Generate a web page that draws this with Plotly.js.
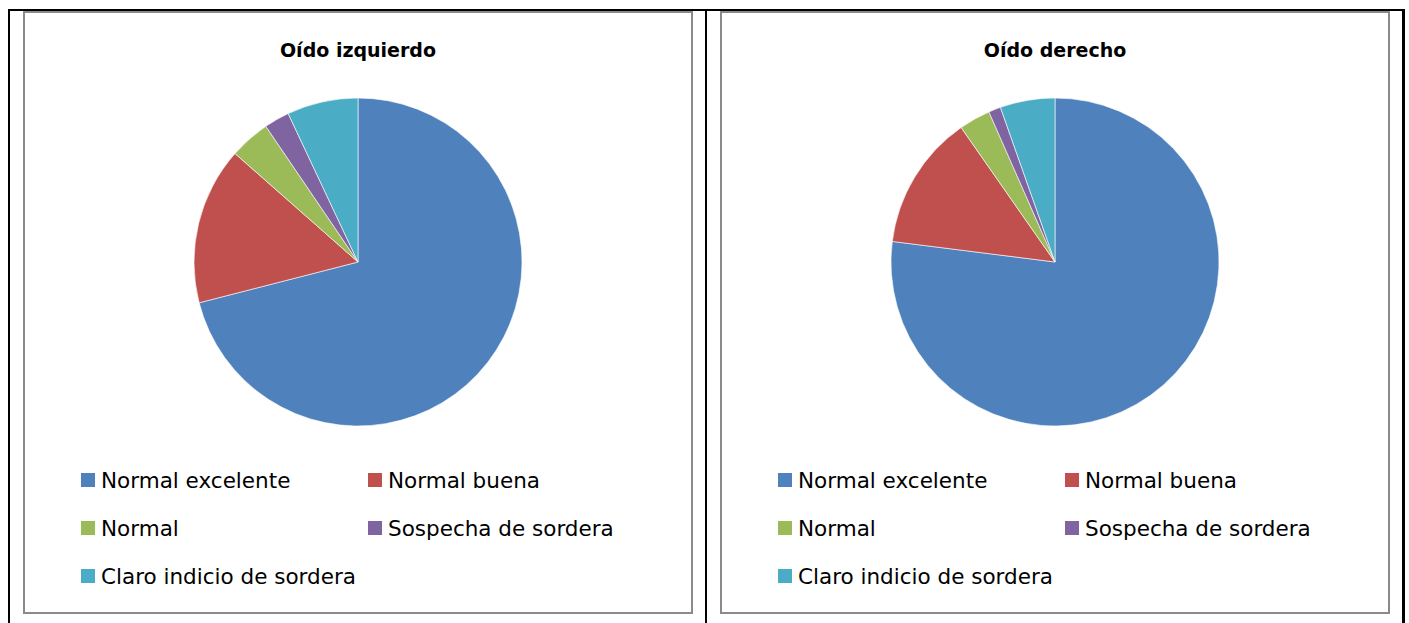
<!DOCTYPE html>
<html>
<head>
<meta charset="utf-8">
<script src="https://cdn.plot.ly/plotly-3.0.1.min.js"></script>
<style>
  body { margin: 0; background: #fff; width: 1409px; height: 623px; overflow: hidden; position: relative; }
  .rule { position: absolute; background: #000; }
  .box { position: absolute; top: 11px; width: 670px; height: 603px; border: 2px solid #8a8a8a; box-sizing: border-box; }
  .chart { width: 666px; height: 599px; }
</style>
</head>
<body>
<!-- table lines around the two charts -->
<div class="rule" style="left:8px; top:9px; width:1397px; height:2px;"></div>
<div class="rule" style="left:8px; top:9px; width:2px; height:614px;"></div>
<div class="rule" style="left:705px; top:9px; width:2px; height:614px;"></div>
<div class="rule" style="left:1402px; top:9px; width:3px; height:614px;"></div>

<div class="box" style="left:23px;"><div id="left" class="chart"></div></div>
<div class="box" style="left:720px;"><div id="right" class="chart"></div></div>

<script>
// Categories and colours (Excel 2007 palette)
const labels = ['Normal excelente', 'Normal buena', 'Normal', 'Sospecha de sordera', 'Claro indicio de sordera'];
const colors = ['#4F81BD', '#C0504D', '#9BBB59', '#8064A2', '#4BACC6'];

// Share of each category (%)
const izquierdo = [71, 15.5, 4, 2.5, 7];
const derecho = [77, 13.3, 3.1, 1.2, 5.4];

const W = 666, H = 599;
const FONT = 'DejaVu Sans, sans-serif';

function drawPie(divId, title, values) {
    const pie = {
        type: 'pie',
        labels: labels,
        values: values,
        sort: false,
        direction: 'clockwise',
        rotation: 0,
        textinfo: 'none',
        hoverinfo: 'label+percent',
        marker: { colors: colors, line: { color: '#fff', width: 0.6 } },
        domain: { x: [0, 1], y: [1 - 413 / H, 1 - 85 / H] },
        showlegend: false
    };

    // Legend drawn as a 2-column grid, like the Excel original
    const shapes = [];
    const annotations = [];
    labels.forEach((label, i) => {
        const col = i % 2, row = Math.floor(i / 2);
        const cx = 63 + col * 287;
        const cy = 467 + row * 48;
        shapes.push({
            type: 'rect', xref: 'paper', yref: 'paper',
            xsizemode: 'pixel', ysizemode: 'pixel',
            xanchor: cx / W, yanchor: 1 - cy / H,
            x0: -7, x1: 7, y0: -7, y1: 7,
            fillcolor: colors[i], line: { width: 0 }
        });
        annotations.push({
            text: label, xref: 'paper', yref: 'paper',
            x: (cx + 11) / W, y: 1 - cy / H,
            xanchor: 'left', yanchor: 'middle', showarrow: false,
            font: { family: FONT, size: 21.5, color: '#000' }
        });
    });

    const layout = {
        width: W,
        height: H,
        margin: { l: 0, r: 0, t: 0, b: 0 },
        paper_bgcolor: '#fff',
        title: {
            text: '<b>' + title + '</b>',
            x: 0.5, xref: 'paper', xanchor: 'center',
            y: 1 - 37.5 / H, yref: 'container', yanchor: 'middle',
            font: { family: FONT, size: 19, color: '#000' }
        },
        shapes: shapes,
        annotations: annotations
    };

    Plotly.newPlot(divId, [pie], layout, { displayModeBar: false, staticPlot: true });
}

drawPie('left', 'Oído izquierdo', izquierdo);
drawPie('right', 'Oído derecho', derecho);
</script>
</body>
</html>
